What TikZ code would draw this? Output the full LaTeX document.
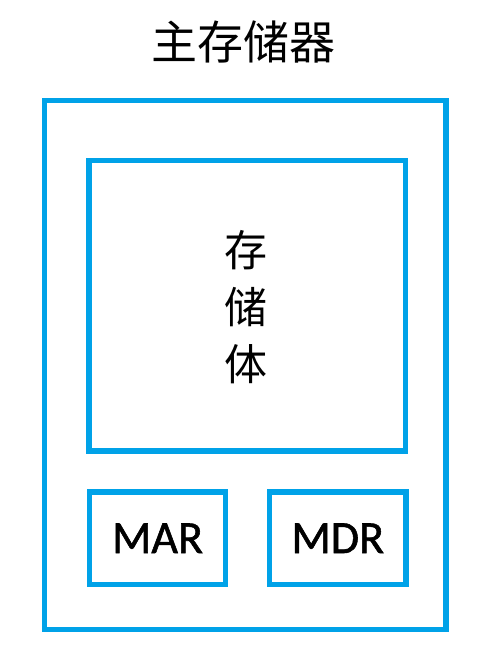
\documentclass[tikz,border=0pt]{standalone}
\usepackage{fontspec}
\newfontfamily\cjk{Noto Sans CJK SC}
\newfontfamily\lat[FakeBold=1.2]{Carlito}
\definecolor{boxblue}{RGB}{0,162,232}
\begin{document}
\begin{tikzpicture}[x=1pt,y=-1pt,
  box/.style={draw=boxblue,line width=5.5pt,inner sep=0pt,outer sep=0pt,rectangle},
  cjktext/.style={font=\cjk\fontsize{43}{57}\selectfont,inner sep=0pt,text=black},
  titletext/.style={font=\cjk\fontsize{46}{50}\selectfont,inner sep=0pt,text=black},
  regtext/.style={font=\lat\fontsize{46}{50}\selectfont,inner sep=0pt,text=black}]
\useasboundingbox (0,0) rectangle (486,658);
\node[box,minimum width=401.5pt,minimum height=529pt] (outer) at (245.25,365) {};
\node[box,minimum width=316.5pt,minimum height=290.5pt] (store) at (247.25,305.75) {};
\node[box,minimum width=136pt,minimum height=92.5pt] (mar) at (157.5,538.25) {};
\node[box,minimum width=136.5pt,minimum height=92.5pt] (mdr) at (337.75,538.25) {};
\node[titletext] (title) at (243,42) {主存储器};
\node[cjktext,align=center] (body) at (246,307) {存\\储\\体};
\node[regtext] (martext) at (mar.center) {MAR};
\node[regtext] (mdrtext) at (mdr.center) {MDR};
\end{tikzpicture}
\end{document}
